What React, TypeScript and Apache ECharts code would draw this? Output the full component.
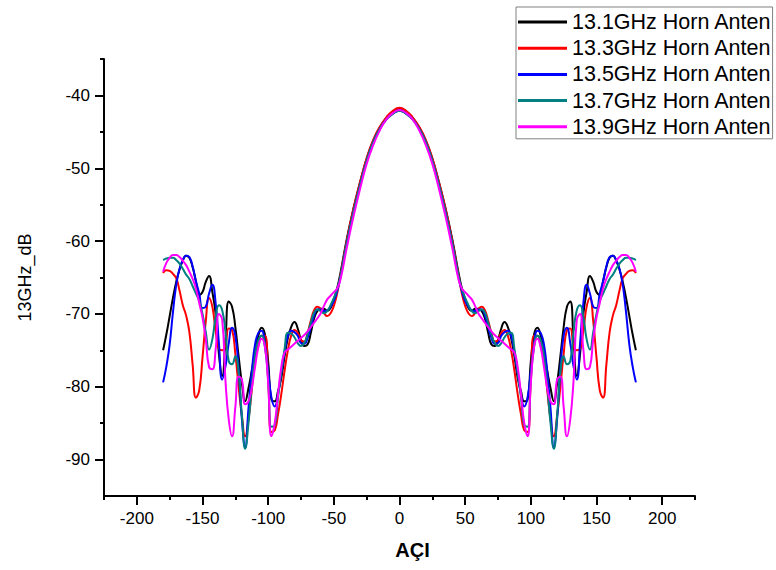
import React, { useEffect, useRef } from "react";
import * as echarts from "echarts";

// Angles (degrees) for the positive half; the measured patterns are mirror-symmetric about 0°
const angles = [0, 5, 10, 15, 20, 25, 30, 35, 40, 45, 47.5, 50, 52.5, 55, 57.5, 60, 62.5, 65, 67.5, 70, 72.5, 75, 77.5, 80, 82.5, 85, 87.5, 90, 92.5, 95, 97.5, 100, 102.5, 105, 107.5, 110, 112.5, 115, 117.5, 120, 122.5, 125, 127.5, 130, 132.5, 135, 137.5, 140, 142.5, 145, 147.5, 150, 152.5, 155, 157.5, 160, 162.5, 165, 167.5, 170, 172.5, 175, 177.5, 180];

const ghz131 = [-41.8, -42.2, -43.1, -44.4, -46.2, -48.7, -51.9, -55.5, -59.6, -64.4, -66.5, -68.0, -69.2, -69.6, -69.3, -69.3, -69.6, -70.6, -72.6, -74.2, -74.4, -73.6, -72.0, -71.1, -71.8, -73.3, -75.8, -78.8, -80.6, -82.0, -81.8, -76.5, -72.8, -71.9, -73.0, -75.2, -77.8, -80.2, -82.0, -79.5, -75.8, -71.8, -69.0, -68.3, -73.5, -78.5, -75.5, -70.0, -67.0, -64.8, -65.6, -67.0, -67.4, -65.5, -63.6, -62.3, -62.0, -62.7, -63.9, -65.6, -67.8, -70.3, -72.8, -75.0];

const ghz133 = [-41.7, -42.1, -43.0, -44.3, -46.1, -48.6, -51.9, -55.5, -59.8, -64.8, -67.2, -68.9, -69.9, -70.3, -69.9, -69.3, -69.0, -69.5, -70.9, -72.6, -73.8, -73.6, -72.6, -72.2, -73.0, -75.0, -77.8, -81.0, -83.8, -86.0, -86.2, -79.0, -73.0, -73.0, -74.4, -76.2, -80.5, -84.5, -86.8, -84.0, -80.0, -75.5, -72.2, -72.0, -74.3, -75.0, -74.8, -72.3, -69.0, -67.8, -71.0, -76.0, -80.5, -81.5, -77.0, -72.5, -70.2, -68.8, -66.8, -65.1, -64.5, -64.1, -64.0, -64.4];

const ghz135 = [-42.1, -42.5, -43.3, -44.6, -46.4, -49.0, -52.3, -56.0, -60.2, -65.0, -66.9, -68.2, -69.0, -69.5, -69.6, -69.4, -69.4, -70.2, -71.8, -73.3, -74.1, -74.0, -73.0, -72.5, -72.3, -73.0, -75.3, -78.2, -81.0, -82.7, -81.5, -77.8, -74.2, -72.3, -72.6, -74.2, -78.0, -83.0, -88.3, -84.5, -77.5, -73.0, -71.9, -74.0, -77.2, -79.0, -74.0, -68.5, -66.0, -67.2, -69.0, -69.2, -67.2, -65.5, -63.5, -62.2, -62.0, -62.6, -63.8, -66.0, -69.8, -74.2, -77.2, -79.4];

const ghz137 = [-42.1, -42.5, -43.3, -44.6, -46.4, -49.0, -52.3, -56.0, -60.2, -64.9, -66.6, -67.8, -68.8, -69.6, -69.9, -69.6, -69.4, -69.8, -71.2, -72.8, -74.0, -74.4, -74.0, -73.2, -72.7, -72.6, -74.8, -78.0, -81.5, -85.3, -85.5, -79.0, -74.5, -73.0, -73.6, -75.8, -80.0, -85.0, -88.5, -84.0, -78.0, -75.8, -76.9, -76.5, -72.5, -69.5, -68.8, -70.4, -73.5, -74.9, -72.5, -70.0, -68.2, -67.2, -66.2, -65.2, -64.6, -63.8, -63.1, -62.6, -62.3, -62.3, -62.4, -62.6];

const ghz139 = [-42.0, -42.4, -43.3, -44.8, -46.8, -49.4, -52.8, -56.6, -60.8, -65.3, -66.5, -67.0, -67.5, -68.0, -68.9, -69.9, -70.6, -71.2, -71.8, -72.4, -72.9, -73.3, -73.7, -74.1, -74.5, -74.9, -75.3, -77.3, -81.0, -85.0, -86.8, -79.5, -74.5, -73.4, -74.6, -77.3, -80.2, -82.0, -82.4, -79.0, -78.6, -82.8, -86.8, -84.5, -79.2, -70.8, -70.0, -74.9, -77.6, -77.3, -73.5, -70.5, -68.5, -66.5, -65.2, -64.2, -63.3, -62.7, -62.2, -61.9, -61.9, -62.3, -63.0, -64.2];

const seriesNames = [
  "13.1GHz Horn Anten",
  "13.3GHz Horn Anten",
  "13.5GHz Horn Anten",
  "13.7GHz Horn Anten",
  "13.9GHz Horn Anten",
];
const seriesColors = ["#000000", "#ff0000", "#0000ff", "#008080", "#ff00ff"];
const seriesValues = [ghz131, ghz133, ghz135, ghz137, ghz139];

const xMajorTicks = [-200, -150, -100, -50, 0, 50, 100, 150, 200];
const xMinorTicks = [-225, -175, -125, -75, -25, 25, 75, 125, 175, 225];
const yMajorTicks = [-90, -80, -70, -60, -50, -40];
const yMinorTicks = [-85, -75, -65, -55, -45, -35];

function mirrored(values: number[]): number[][] {
  const pts: number[][] = [];
  for (let i = angles.length - 1; i > 0; i--) pts.push([-angles[i], values[i]]);
  for (let i = 0; i < angles.length; i++) pts.push([angles[i], values[i]]);
  return pts;
}

const FONT = "'Liberation Sans', Arial, sans-serif";

export default function App() {
  const ref = useRef<HTMLDivElement>(null);
  useEffect(() => {
    if (!ref.current) return;
    const chart = echarts.init(ref.current, undefined, { renderer: "svg" });
    const axisLine = { show: true, onZero: false, lineStyle: { color: "#000", width: 2 } };
    chart.setOption({
      animation: false,
      backgroundColor: "#ffffff",
      textStyle: { fontFamily: FONT },
      grid: { left: 104, right: 81, top: 59, bottom: 74, containLabel: false, outerBoundsMode: "none" },
      legend: {
        orient: "vertical",
        left: 516,
        top: 7,
        padding: [3, 1, 0, 2],
        itemGap: 2.2,
        itemWidth: 49,
        itemHeight: 3,
        itemTextGap: 8,
        icon: "rect",
        borderColor: "#808080",
        borderWidth: 1,
        data: seriesNames,
        textStyle: { fontSize: 21.5, fontFamily: FONT, color: "#000", lineHeight: 24 },
      },
      xAxis: [
        {
          type: "value",
          min: -225,
          max: 225,
          position: "bottom",
          name: "AÇI",
          nameLocation: "middle",
          nameGap: 44,
          nameTextStyle: { fontSize: 20, fontWeight: "bold", color: "#000", fontFamily: FONT, padding: [0, 0, 0, 26] },
          axisLine,
          axisTick: { show: true, inside: false, length: 9, customValues: xMajorTicks, lineStyle: { color: "#000", width: 2 } },
          axisLabel: { customValues: xMajorTicks, fontSize: 17, margin: 14, color: "#000", fontFamily: FONT },
          splitLine: { show: false },
        },
        {
          type: "value",
          min: -225,
          max: 225,
          position: "bottom",
          axisLine: { show: false, onZero: false },
          axisTick: { show: true, inside: false, length: 4, customValues: xMinorTicks, lineStyle: { color: "#000", width: 2 } },
          axisLabel: { show: false },
          splitLine: { show: false },
        },
      ],
      yAxis: [
        {
          type: "value",
          min: -95,
          max: -35,
          position: "left",
          name: "13GHz_dB",
          nameLocation: "middle",
          nameGap: 70,
          nameTextStyle: { fontSize: 18, color: "#000", fontFamily: FONT },
          axisLine,
          axisTick: { show: true, inside: false, length: 9, customValues: yMajorTicks, lineStyle: { color: "#000", width: 2 } },
          axisLabel: { customValues: yMajorTicks, fontSize: 17, margin: 14, color: "#000", fontFamily: FONT },
          splitLine: { show: false },
        },
        {
          type: "value",
          min: -95,
          max: -35,
          position: "left",
          axisLine: { show: false, onZero: false },
          axisTick: { show: true, inside: false, length: 4, customValues: yMinorTicks, lineStyle: { color: "#000", width: 2 } },
          axisLabel: { show: false },
          splitLine: { show: false },
        },
      ],
      series: seriesNames.map((name, i) => ({
        name,
        type: "line",
        xAxisIndex: 0,
        yAxisIndex: 0,
        data: mirrored(seriesValues[i]),
        smooth: 0.5,
        symbol: "none",
        showSymbol: false,
        color: seriesColors[i],
        itemStyle: { color: seriesColors[i] },
        lineStyle: { color: seriesColors[i], width: 2 },
      })),
    });
    return () => chart.dispose();
  }, []);
  return <div ref={ref} style={{ position: "absolute", left: 0, top: 0, width: 776, height: 570 }} />;
}
